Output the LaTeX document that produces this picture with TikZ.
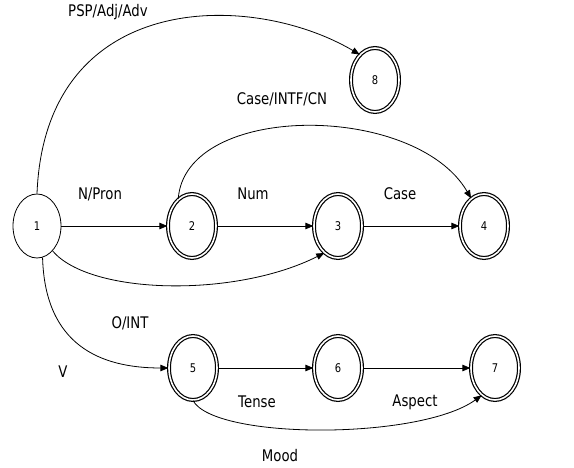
\documentclass[tikz,border=0pt]{standalone}
\usepackage{fontspec}
\setmainfont{DejaVu Sans}[FakeStretch=0.83]
\usetikzlibrary{arrows.meta,shapes.geometric}
\tikzset{
  st/.style={ellipse,draw,line width=0.8pt,minimum width=48pt,minimum height=64pt,inner sep=0pt,font=\fontsize{12}{12}\selectfont},
  fin/.style={st,line width=1.2pt,double,double distance=1.6pt},
  lab/.style={font=\fontsize{16}{16}\selectfont,inner sep=0pt},
  edge/.style={line width=0.8pt,-{Triangle[length=8pt,width=6.5pt]}}
}
\begin{document}
\begin{tikzpicture}[x=1pt,y=1pt]
\useasboundingbox (0,0) rectangle (574,-468);
\node[st]  (n1) at (37,-226) {1};
\node[fin] (n2) at (192,-226) {2};
\node[fin] (n3) at (338,-226) {3};
\node[fin] (n4) at (484,-226) {4};
\node[fin] (n8) at (375,-80) {8};
\node[fin] (n5) at (193,-368) {5};
\node[fin] (n6) at (338,-368) {6};
\node[fin] (n7) at (495,-368) {7};

\node[lab] (l1) at (108,-12) {PSP/Adj/Adv};
\node[lab] (l2) at (282,-99) {Case/INTF/CN};
\node[lab] (l3) at (100,-194) {N/Pron};
\node[lab] (l4) at (253,-194) {Num};
\node[lab] (l5) at (400,-194) {Case};
\node[lab] (l6) at (130,-323) {O/INT};
\node[lab] (l7) at (63,-372) {V};
\node[lab] (l8) at (257,-402) {Tense};
\node[lab] (l9) at (415,-402) {Aspect};
\node[lab] (l10) at (280,-456) {Mood};

\draw[edge] (n1) -- (n2);
\draw[edge] (n2) -- (n3);
\draw[edge] (n3) -- (n4);
\draw[edge] (n5) -- (n6);
\draw[edge] (n6) -- (n7);
\draw[edge] (n1.north) .. controls (45,10) and (250,10) .. (n8.121);
\draw[edge] (n2.117) .. controls (185,-102) and (415,-102) .. (n4.115);
\draw[edge] (n1.-58) .. controls (90,-295) and (235,-298) .. (n3.243);
\draw[edge] (n1.-80) .. controls (45,-345) and (100,-368) .. (n5.west);
\draw[edge] (n5.south) .. controls (215,-440) and (420,-440) .. (n7.244);
\end{tikzpicture}
\end{document}
